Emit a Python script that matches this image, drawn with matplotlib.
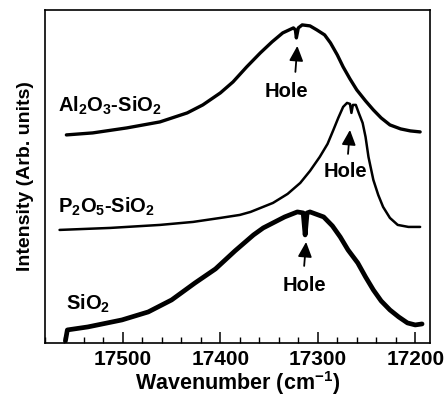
import matplotlib
matplotlib.use("Agg")
import matplotlib.pyplot as plt
from matplotlib.ticker import MultipleLocator

plt.rcParams["font.family"] = ["Liberation Sans", "DejaVu Sans"]
plt.rcParams["font.weight"] = "bold"
plt.rcParams["mathtext.default"] = "regular"

# Al2O3-SiO2 spectrum (wavenumber in cm-1, intensity in arb. units)
al_wn = [17558, 17531, 17496, 17462, 17434, 17418, 17400, 17387, 17373, 17359,
         17347, 17336, 17325, 17323, 17322, 17320, 17316, 17308, 17301, 17293,
         17287, 17280, 17274, 17267, 17260, 17251, 17243, 17235, 17226, 17215,
         17205, 17195]
al_int = [208, 210, 215, 221, 230, 238, 250, 261, 276, 290,
          301, 310, 315, 313, 305, 315, 318, 317, 313, 308,
          300, 288, 276, 264, 253, 242, 233, 225, 218, 214,
          212, 211]

# P2O5-SiO2 spectrum
p_wn = [17565, 17513, 17462, 17428, 17400, 17380, 17369, 17346, 17331, 17318,
        17308, 17298, 17290, 17284, 17279, 17274, 17270, 17267, 17265.5, 17264,
        17261, 17258, 17254, 17251, 17248, 17243, 17238, 17233, 17226,
        17218, 17207, 17195]
p_int = [113, 115, 118, 121, 125, 128, 131, 140, 149, 160,
         172, 186, 199, 213, 225, 236, 240, 239, 230, 238,
         238, 230, 220, 206, 186, 163, 148, 136, 125,
         118, 116, 116]

# SiO2 spectrum
si_wn = [17559, 17557, 17536, 17501, 17474, 17450, 17426, 17405, 17385, 17366,
         17356, 17346, 17334, 17321, 17315, 17313, 17311, 17308, 17294, 17285,
         17277, 17269, 17259, 17251, 17243, 17235, 17226, 17217, 17208, 17200,
         17193]
si_int = [2, 13, 16, 23, 31, 43, 60, 74, 92, 108,
          115, 120, 126, 131, 130, 108, 130, 131, 126, 117,
          106, 93, 80, 66, 53, 42, 33, 26, 20, 18,
          19]

# Curve labels
labels = ["Al$_2$O$_3$-SiO$_2$", "P$_2$O$_5$-SiO$_2$", "SiO$_2$"]
label_wn = [17567, 17567, 17558]
label_int = [237, 136, 39]

# "Hole" markers: arrow tip, arrow tail and text position
hole_tip_wn = [17321, 17267, 17312]
hole_tip_int = [297, 213, 101]
hole_tail_int = [271, 189, 77]
hole_text_wn = [17332, 17272, 17314]
hole_text_int = [251, 171, 57]

fig = plt.figure(figsize=(4.45, 3.96), dpi=100)
ax = fig.add_axes([0.101, 0.134, 0.865, 0.841])

ax.plot(al_wn, al_int, color="black", lw=2.4, solid_capstyle="round", solid_joinstyle="round")
ax.plot(p_wn, p_int, color="black", lw=1.8, solid_capstyle="round", solid_joinstyle="round")
ax.plot(si_wn, si_int, color="black", lw=3.4, solid_capstyle="round", solid_joinstyle="round")

for text, x, y in zip(labels, label_wn, label_int):
    ax.text(x, y, text, fontsize=14.5, fontweight="bold", ha="left", va="center")

for i in range(3):
    ax.annotate("", xy=(hole_tip_wn[i], hole_tip_int[i]),
                xytext=(hole_tip_wn[i] + 2, hole_tail_int[i]),
                arrowprops=dict(arrowstyle="-|>,head_length=0.6,head_width=0.28",
                                mutation_scale=15, color="black", lw=1.3,
                                shrinkA=0, shrinkB=0))
    ax.text(hole_text_wn[i], hole_text_int[i], "Hole", fontsize=14.5,
            fontweight="bold", ha="center", va="center")

ax.set_xlim(17580, 17185)
ax.set_ylim(0, 333)
ax.xaxis.set_major_locator(MultipleLocator(100))
ax.xaxis.set_minor_locator(MultipleLocator(20))
ax.tick_params(axis="x", which="major", direction="in", length=8, width=1.1,
               labelsize=15, pad=5)
ax.tick_params(axis="x", which="minor", direction="in", length=4.5, width=1.0)
ax.set_yticks([])
for sp in ax.spines.values():
    sp.set_linewidth(1.2)

ax.set_xlabel("Wavenumber (cm$^{-1}$)", fontsize=15.5, fontweight="bold", labelpad=0)
ax.set_ylabel("Intensity (Arb. units)", fontsize=14, fontweight="bold", labelpad=8)

fig.savefig("out.png", dpi=100)
